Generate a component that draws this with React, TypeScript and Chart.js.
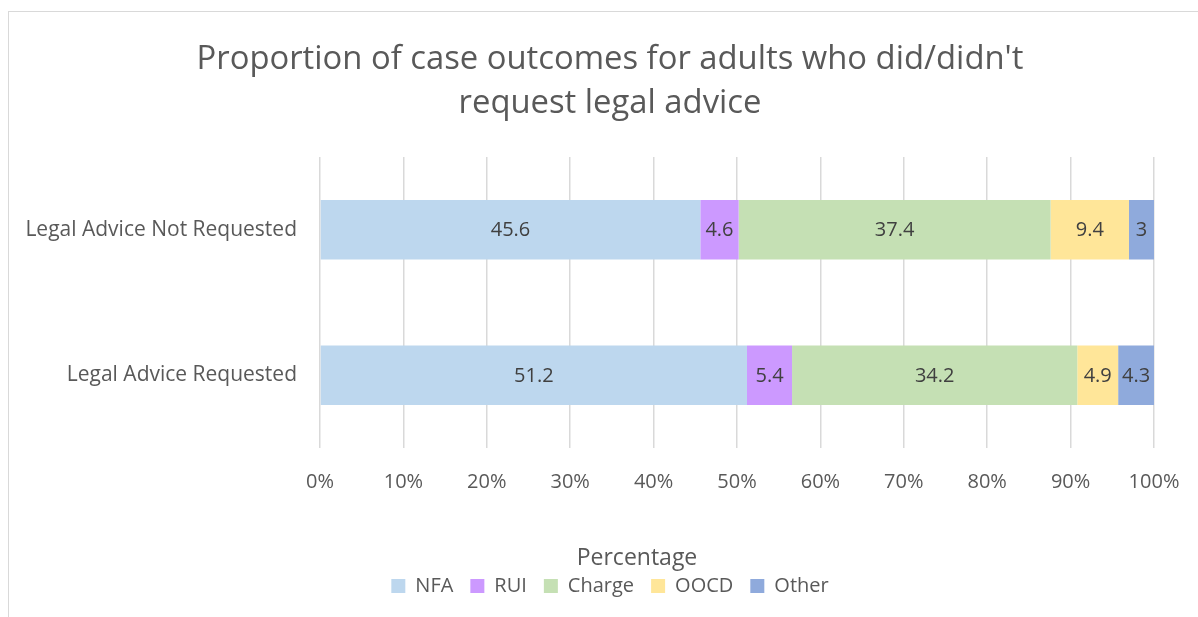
import React, { useEffect, useRef } from "react";
import { Chart, registerables } from "chart.js";

Chart.register(...registerables);

const categories = ["Legal Advice Not Requested", "Legal Advice Requested"];
const seriesNames = ["NFA", "RUI", "Charge", "OOCD", "Other"];
const nfa = [45.6, 51.2];
const rui = [4.6, 5.4];
const charge = [37.4, 34.2];
const oocd = [9.4, 4.9];
const other = [3, 4.3];
const seriesColors = ["#BDD7EE", "#CC99FF", "#C5E0B4", "#FFE699", "#8FAADC"];
const xTicks = [0, 10, 20, 30, 40, 50, 60, 70, 80, 90, 100];
const titleLines = ["Proportion of case outcomes for adults who did/didn't", "request legal advice"];
const legendTitle = "Percentage";

const FONT = "'Open Sans', sans-serif";

const labelPlugin = {
  id: "segLabels",
  afterDatasetsDraw(chart: any) {
    const ctx = chart.ctx;
    ctx.save();
    ctx.font = `20px ${FONT}`;
    ctx.fillStyle = "#404040";
    ctx.textAlign = "center";
    ctx.textBaseline = "middle";
    chart.data.datasets.forEach((ds: any, di: number) => {
      const meta = chart.getDatasetMeta(di);
      meta.data.forEach((bar: any, i: number) => {
        const v = ds.data[i];
        const p = bar.getProps(["x", "y", "base"], true);
        const cx = (p.x + p.base) / 2;
        ctx.fillText(String(v), cx, p.y + 1);
      });
    });
    ctx.restore();
  },
};

const legendTitlePlugin = {
  id: "legendTitleText",
  afterDraw(chart: any) {
    const ctx = chart.ctx;
    const lg = chart.legend;
    ctx.save();
    ctx.font = `23px ${FONT}`;
    ctx.fillStyle = "#595959";
    ctx.textAlign = "center";
    ctx.textBaseline = "middle";
    ctx.fillText(legendTitle, chart.width / 2 + 27, lg.top - 1);
    ctx.restore();
  },
};

export default function App() {
  const ref = useRef<HTMLCanvasElement>(null);
  useEffect(() => {
    const seriesData = [nfa, rui, charge, oocd, other];
    const chart = new Chart(ref.current!, {
      type: "bar",
      data: {
        labels: categories,
        datasets: seriesNames.map((n, i) => ({
          label: n,
          data: seriesData[i],
          backgroundColor: seriesColors[i],
          borderWidth: 0,
          barPercentage: 0.41,
          categoryPercentage: 1,
        })),
      },
      options: {
        indexAxis: "y",
        animation: false,
        responsive: false,
        layout: { padding: { left: 0, right: 0, top: 0, bottom: 24 } },
        plugins: {
          tooltip: { enabled: false },
          title: {
            display: true,
            text: titleLines,
            color: "#595959",
            font: { family: FONT, size: 32.8, weight: "normal", lineHeight: 44 / 32.8 },
            padding: { top: 26, bottom: 31 },
          },
          legend: {
            display: true,
            position: "bottom",
            labels: {
              color: "#595959",
              font: { family: FONT, size: 20 },
              boxWidth: 14,
              boxHeight: 14,
              padding: 17,
            },
          },
        },
        scales: {
          x: {
            stacked: true,
            min: 0,
            max: 100,
            afterBuildTicks: (s: any) => {
              s.ticks = xTicks.map((v) => ({ value: v }));
            },
            afterFit: (s: any) => {
              s.height = 111;
            },
            ticks: {
              color: "#595959",
              font: { family: FONT, size: 20 },
              padding: 22,
              callback: (v: any) => v + "%",
            },
            grid: { color: "#D9D9D9", lineWidth: 1.5, drawTicks: false },
            border: { display: false },
          },
          y: {
            stacked: true,
            afterFit: (s: any) => {
              s.width = 311;
            },
            ticks: {
              color: "#595959",
              font: { family: FONT, size: 21 },
              padding: 23,
            },
            grid: { display: false, drawTicks: false },
            border: { display: false },
          },
          yRightSpace: {
            type: "category",
            position: "right",
            display: true,
            afterFit: (s: any) => {
              s.width = 57;
            },
            ticks: { display: false },
            grid: { display: false, drawTicks: false },
            border: { display: false },
          },
        },
      },
      plugins: [labelPlugin, legendTitlePlugin],
    });
    return () => chart.destroy();
  }, []);
  return (
    <div
      style={{
        position: "fixed",
        left: 8,
        top: 11,
        width: 1202,
        height: 618,
        border: "1px solid #D9D9D9",
        background: "#fff",
      }}
    >
      <canvas ref={ref} width={1202} height={618} style={{ display: "block" }} />
    </div>
  );
}
